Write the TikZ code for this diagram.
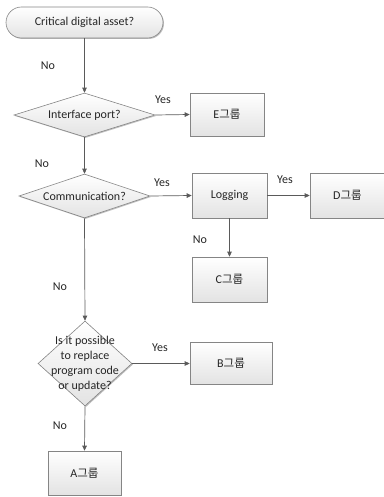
\documentclass[tikz,border=0pt]{standalone}
\usepackage{fontspec}
\setmainfont{Carlito}
\newfontfamily\kr{Noto Sans CJK KR}
\usetikzlibrary{shapes.geometric,arrows.meta,shadows}
\definecolor{linec}{HTML}{5A5A5A}
\definecolor{bordc}{HTML}{858585}
\definecolor{txtc}{HTML}{262626}
\definecolor{fillbot}{HTML}{E3E3E3}
\tikzset{
  base/.style={draw=bordc, line width=0.6pt, top color=white, bottom color=fillbot,
    drop shadow={shadow xshift=1pt, shadow yshift=-1pt, opacity=0.25, fill=black},
    text=txtc, font=\fontsize{12}{15}\selectfont, inner sep=0pt},
  term/.style={base, rectangle, rounded corners=15.5pt, minimum width=157pt, minimum height=31pt},
  dia/.style={base, diamond, minimum width=#1},
  boxn/.style={base, rectangle, minimum width=75pt, minimum height=44pt},
  conn/.style={draw=linec, line width=0.7pt, -{Triangle[length=5pt,width=4.5pt]}},
  lab/.style={text=txtc, font=\fontsize{12}{15}\selectfont, inner sep=0pt}
}
\newcommand{\grp}[1]{#1{\kr\fontsize{11.5}{14}\selectfont 그룹}}
\begin{document}
\begin{tikzpicture}[x=1pt,y=-1pt]
\useasboundingbox (0,0) rectangle (383,497);
\node[term] (start) at (84.5,22.5) {Critical digital asset?};
\node[base, diamond, aspect=3.2, minimum width=141pt, minimum height=44pt, shape aspect=3.2] (d1) at (84.5,115) {};
\node[lab] at (d1.center) {Interface port?};
\node[base, diamond, minimum width=131pt, minimum height=44pt] (d2) at (84.5,196) {};
\node[lab] at (d2.center) {Communication?};
\node[base, diamond, minimum width=94pt, minimum height=85pt] (d3) at (85,363.5) {};
\node[lab, align=center] at (d3.center) {Is it possible\\to replace\\program code\\or update?};
\node[boxn, minimum width=74pt, minimum height=43pt] (e) at (227,114.5) {\grp{E}};
\node[boxn, minimum height=45pt] (log) at (229.5,195.5) {Logging};
\node[boxn, minimum height=45pt] (dg) at (347.5,195.5) {\grp{D}};
\node[boxn, minimum height=45pt] (c) at (229.5,279.5) {\grp{C}};
\node[boxn, minimum width=82pt, minimum height=42pt] (b) at (231,363) {\grp{B}};
\node[boxn, minimum width=73pt, minimum height=44pt] (a) at (84.5,473) {\grp{A}};
\draw[conn] (start.south) -- (d1.north);
\draw[conn] (d1.east) -- (e.west);
\draw[conn] (d1.south) -- (d2.north);
\draw[conn] (d2.east) -- (log.west);
\draw[conn] (log.east) -- (dg.west);
\draw[conn] (log.south) -- (c.north);
\draw[conn] (d2.south) -- (d3.north);
\draw[conn] (d3.east) -- (b.west |- d3.east);
\draw[conn] (d3.south) -- (a.north);
\node[lab] at (48,66) {No};
\node[lab] at (163,100) {Yes};
\node[lab] at (42,164) {No};
\node[lab] at (162,183) {Yes};
\node[lab] at (285,180) {Yes};
\node[lab] at (200,240) {No};
\node[lab] at (60,287) {No};
\node[lab] at (160,348) {Yes};
\node[lab] at (60,426) {No};
\end{tikzpicture}
\end{document}
